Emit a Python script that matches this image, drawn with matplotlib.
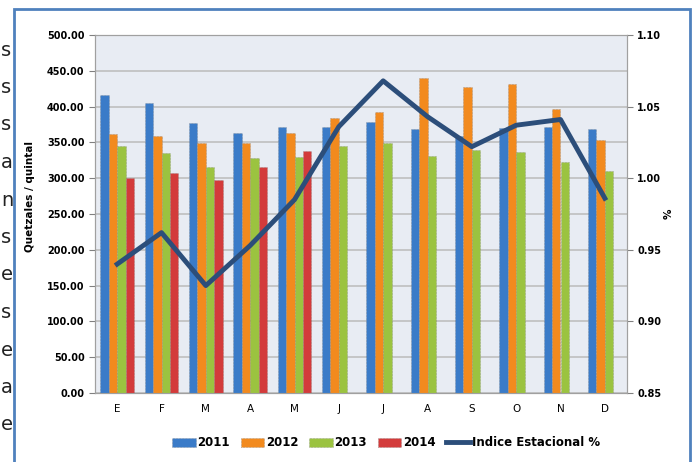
import matplotlib.pyplot as plt
import numpy as np
from matplotlib.patches import Rectangle

plt.rcParams['font.family'] = ['Liberation Sans Narrow', 'DejaVu Sans']

meses = ['E', 'F', 'M', 'A', 'M', 'J', 'J', 'A', 'S', 'O', 'N', 'D']
precios_2011 = [416, 405, 377, 363, 371, 371, 378, 369, 359, 370, 372, 369]
precios_2012 = [362, 359, 349, 349, 363, 384, 392, 440, 427, 432, 397, 354]
precios_2013 = [345, 335, 316, 328, 330, 345, 349, 331, 339, 337, 322, 310]
precios_2014 = [300, 307, 297, 316, 338, np.nan, np.nan, np.nan, np.nan, np.nan, np.nan, np.nan]
indice_estacional = [0.940, 0.962, 0.925, 0.953, 0.985, 1.036, 1.068, 1.043, 1.022, 1.037, 1.041, 0.986]

# letras cortadas del documento a la izquierda
letras_margen = ['s', 's', 's', 'a', 'n', 's', 'e', 's', 'e', 'a', 'e']

colores = ['#3A7BC8', '#F28A1E', '#9BC340', '#D33B3B']
color_linea = '#2C4E7A'

fig = plt.figure(figsize=(6.96, 4.62), dpi=100)
fig.patch.set_facecolor('white')

# marco azul del grafico
fig.patches.append(Rectangle((14 / 696, -0.05), (690 - 14) / 696, (462 - 9) / 462 + 0.05,
                             transform=fig.transFigure, fill=False,
                             edgecolor='#4F81BD', linewidth=2))

for i, letra in enumerate(letras_margen):
    fig.text(1 / 696, 1 - (50 + i * 37.5) / 462, letra, fontsize=14,
             family='DejaVu Sans', ha='left', va='center', color='#222222')

ax = fig.add_axes([95 / 696, 69 / 462, 532 / 696, 358 / 462])
ax.set_facecolor('#E8ECF3')

x = np.arange(len(meses))
width = 0.19
series = [precios_2011, precios_2012, precios_2013, precios_2014]
etiquetas = ['2011', '2012', '2013', '2014']
for k, (vals, lab) in enumerate(zip(series, etiquetas)):
    ax.bar(x + (k - 1.5) * width, vals, width, color=colores[k], label=lab,
           edgecolor='#7F7F7F', linewidth=0.4, linestyle=':', zorder=3)

ax.set_xlim(-0.5, 11.5)
ax.set_ylim(0, 500)
ax.set_yticks(np.arange(0, 501, 50))
ax.set_yticklabels([f'{v:.2f}' for v in np.arange(0, 501, 50)], fontsize=7, fontweight='bold')
ax.set_xticks(x)
ax.set_xticklabels(meses, fontsize=7.5)
ax.tick_params(axis='x', length=0, pad=8)
ax.tick_params(axis='y', length=4, color='#808080')
ax.grid(axis='y', color='#BFBFBF', linewidth=1.2, zorder=0)
ax.set_axisbelow(True)
for s in ax.spines.values():
    s.set_color('#A0A0A0')
ax.set_ylabel('Quetzales / quintal', fontsize=7.5, fontweight='bold')
ax.yaxis.set_label_coords(-0.113, 0.55)

ax2 = ax.twinx()
ax2.plot(x, indice_estacional, color=color_linea, linewidth=3.5, label='Indice Estacional %', zorder=5)
ax2.set_ylim(0.85, 1.10)
ax2.set_yticks(np.arange(0.85, 1.101, 0.05))
ax2.set_yticklabels([f'{v:.2f}' for v in np.arange(0.85, 1.101, 0.05)], fontsize=7, fontweight='bold')
ax2.tick_params(axis='y', length=4, color='#808080')
ax2.set_ylabel('%', fontsize=7.5, fontweight='bold')
ax2.yaxis.set_label_coords(1.068, 0.5)
for s in ax2.spines.values():
    s.set_color('#A0A0A0')

h1, l1 = ax.get_legend_handles_labels()
h2, l2 = ax2.get_legend_handles_labels()
fig.legend(h1 + h2, l1 + l2, loc='center', bbox_to_anchor=(386 / 696, 1 - 443 / 462),
           ncol=5, frameon=False, prop={'size': 8.5, 'weight': 'bold'},
           handlelength=2.0, handletextpad=0.15, columnspacing=0.9)

fig.savefig('out.png', dpi=100)
